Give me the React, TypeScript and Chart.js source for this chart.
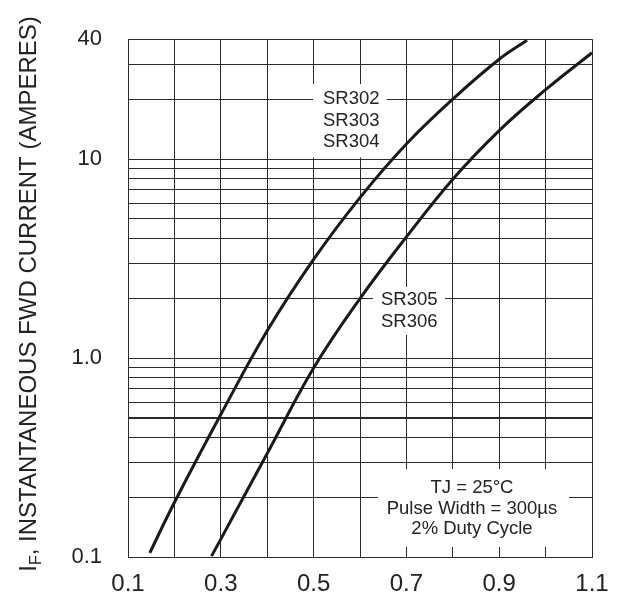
import React, { useEffect, useRef } from 'react';
import { Chart, registerables } from 'chart.js';

Chart.register(...registerables);

// ---- Data ----
const SR302_X = [0.147, 0.2, 0.3, 0.4, 0.5, 0.6, 0.7, 0.8, 0.9, 0.96];
const SR302_Y = [0.105, 0.188, 0.52, 1.37, 3.13, 6.4, 11.9, 20.0, 31.7, 39.5];

const SR305_X = [0.28, 0.3, 0.4, 0.5, 0.6, 0.7, 0.8, 0.9, 1.0, 1.1];
const SR305_Y = [0.101, 0.123, 0.331, 0.89, 1.99, 4.06, 7.92, 13.9, 22.3, 34.2];

const Y_GRID_VALUES = [0.1, 0.2, 0.3, 0.4, 0.5, 0.6, 0.7, 0.8, 0.9, 1, 2, 3, 4, 5, 6, 7, 8, 9, 10, 20, 30, 40];
const Y_TICK_VALUES = [0.1, 1, 10, 40];
const Y_TICK_LABELS = ['0.1', '1.0', '10', '40'];
const X_TICK_LABELS = ['0.1', '0.3', '0.5', '0.7', '0.9', '1.1'];

const LABEL_A = ['SR302', 'SR303', 'SR304'];
const LABEL_B = ['SR305', 'SR306'];
const NOTE_LINES = ['TJ = 25°C', 'Pulse Width = 300µs', '2% Duty Cycle'];
const Y_TITLE_MAIN = 'I';
const Y_TITLE_SUB = 'F';
const Y_TITLE_REST = ', INSTANTANEOUS FWD CURRENT (AMPERES)';

const FONT = '"Liberation Sans", Arial, Helvetica, sans-serif';
const INK = '#222222';
const GRID = '#2b2b2b';

const annotPlugin = {
  id: 'annot',
  beforeDatasetsDraw(chart: any) {
    const ctx = chart.ctx;
    const y10 = chart.scales.y.getPixelForValue(10);
    ctx.save();
    ctx.fillStyle = '#ffffff';
    ctx.fillRect(313, 84, 74, y10 - 84 - 1.5);
    ctx.fillRect(373, 287, 72, 48);
    ctx.fillRect(378, 469, 191, 78);
    ctx.restore();
  },
  afterDatasetsDraw(chart: any) {
    const ctx = chart.ctx;
    ctx.save();
    ctx.fillStyle = INK;
    ctx.font = `18.5px ${FONT}`;
    ctx.textBaseline = 'alphabetic';
    ctx.textAlign = 'left';
    LABEL_A.forEach((t, i) => ctx.fillText(t, 323, 104 + i * 21.5));
    LABEL_B.forEach((t, i) => ctx.fillText(t, 381, 305 + i * 22));
    ctx.textAlign = 'center';
    NOTE_LINES.forEach((t, i) => ctx.fillText(t, 472, 493 + i * 20.7));
    ctx.restore();
  },
  afterDraw(chart: any) {
    const ctx = chart.ctx;
    ctx.save();
    ctx.fillStyle = INK;
    ctx.textBaseline = 'alphabetic';
    ctx.textAlign = 'left';
    const big = `24px ${FONT}`;
    const small = `16px ${FONT}`;
    ctx.font = big;
    const wI = ctx.measureText(Y_TITLE_MAIN).width;
    const wR = ctx.measureText(Y_TITLE_REST).width;
    ctx.font = small;
    const wF = ctx.measureText(Y_TITLE_SUB).width;
    const total = wI + wF + wR;
    ctx.translate(36, 294);
    ctx.rotate(-Math.PI / 2);
    let x = -total / 2;
    ctx.font = big;
    ctx.fillText(Y_TITLE_MAIN, x, 0);
    x += wI;
    ctx.font = small;
    ctx.fillText(Y_TITLE_SUB, x, 5);
    x += wF;
    ctx.font = big;
    ctx.fillText(Y_TITLE_REST, x, 0);
    ctx.restore();
  },
};

export default function App() {
  const ref = useRef<HTMLCanvasElement | null>(null);

  useEffect(() => {
    if (!ref.current) return;
    const lineStyle = {
      showLine: true,
      borderColor: '#1a1a1a',
      borderWidth: 3,
      pointRadius: 0,
      tension: 0.4,
      fill: false,
    };
    const chart = new Chart(ref.current, {
      type: 'scatter',
      data: {
        datasets: [
          {
            label: 'SR302-SR304',
            data: SR302_X.map((x, i) => ({ x, y: SR302_Y[i] })),
            ...lineStyle,
          },
          {
            label: 'SR305-SR306',
            data: SR305_X.map((x, i) => ({ x, y: SR305_Y[i] })),
            ...lineStyle,
          },
        ],
      },
      options: {
        responsive: false,
        animation: false,
        devicePixelRatio: 1,
        layout: { padding: { top: 33, right: 47, left: 0, bottom: 0 } },
        plugins: {
          legend: { display: false },
          tooltip: { enabled: false },
        },
        scales: {
          x: {
            type: 'linear',
            min: 0.1,
            max: 1.1,
            afterFit: (scale: any) => {
              scale.height = 43;
            },
            ticks: {
              stepSize: 0.1,
              autoSkip: false,
              maxRotation: 0,
              padding: 13,
              color: INK,
              font: { family: FONT, size: 24 },
              callback: (v: any) => {
                const s = Number(v).toFixed(1);
                return X_TICK_LABELS.includes(s) ? s : '';
              },
            },
            grid: { color: GRID, lineWidth: 1, drawTicks: false },
            border: { display: true, color: GRID, width: 1 },
          },
          y: {
            type: 'logarithmic',
            min: 0.1,
            max: 40,
            afterFit: (scale: any) => {
              scale.width = 128;
            },
            afterBuildTicks: (scale: any) => {
              scale.ticks = Y_GRID_VALUES.map((v) => ({ value: v }));
            },
            ticks: {
              autoSkip: false,
              padding: 26,
              color: INK,
              font: { family: FONT, size: 22 },
              callback: (v: any) => {
                const idx = Y_TICK_VALUES.findIndex((t) => Math.abs(t - Number(v)) < 1e-9);
                return idx >= 0 ? Y_TICK_LABELS[idx] : '';
              },
            },
            grid: {
              color: GRID,
              lineWidth: (c: any) => (c.tick && Math.abs(c.tick.value - 0.5) < 1e-9 ? 2 : 1),
              drawTicks: false,
            },
            border: { display: true, color: GRID, width: 1 },
          },
        },
      },
      plugins: [annotPlugin],
    } as any);
    return () => chart.destroy();
  }, []);

  return (
    <div style={{ position: 'fixed', left: 0, top: 0, width: 639, height: 600, background: '#fff' }}>
      <canvas ref={ref} width={639} height={600} style={{ display: 'block', width: 639, height: 600 }} />
    </div>
  );
}
